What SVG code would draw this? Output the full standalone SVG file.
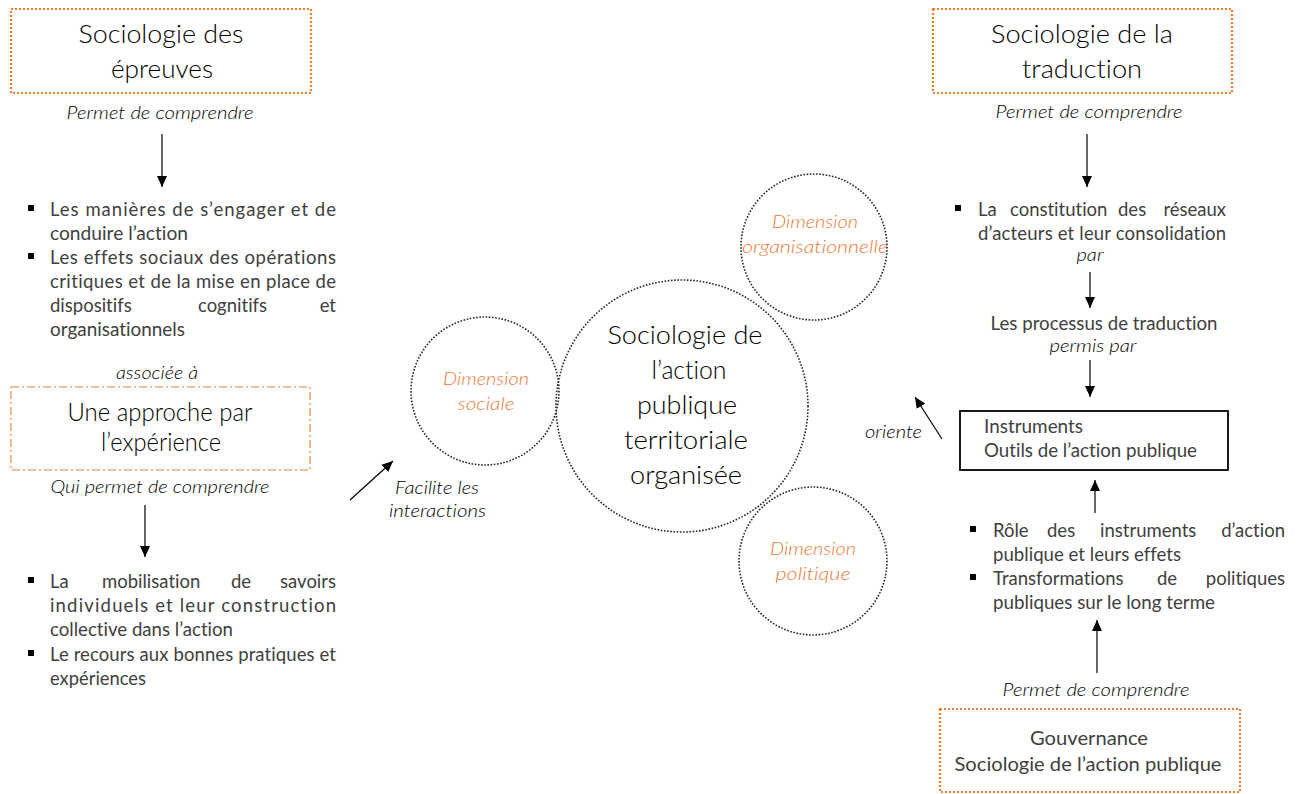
<svg xmlns="http://www.w3.org/2000/svg" width="1301" height="794" viewBox="0 0 1301 794">
<defs>
<style>
text{font-family:Lato,"Open Sans","Liberation Sans",sans-serif;font-weight:400;fill:#404040;font-variant-ligatures:none}
.t{font-size:26px;font-weight:300;fill:#000}
.b{font-size:18.5px}
.i{font-size:18px;font-style:italic;font-weight:300;fill:#000}
.d{font-size:18px;font-style:italic;font-weight:300;fill:#EC7A38}
.m{text-anchor:middle}
.ob{fill:none;stroke:#ED7D31;stroke-width:2.2;stroke-dasharray:2 2}
.od{fill:none;stroke:#ED7D31;stroke-width:1.1;stroke-dasharray:8 3 2 3}
.c{fill:none;stroke:#262626;stroke-width:1.6;stroke-dasharray:1.6 1.6}
.a{stroke:#000;stroke-width:1.2;fill:none;marker-end:url(#ah)}
.sq{fill:#000}
</style>
<marker id="ah" markerUnits="userSpaceOnUse" markerWidth="12" markerHeight="12" viewBox="0 0 12 12" refX="11" refY="6" orient="auto">
<path d="M0,1 L11,6 L0,11 Z" fill="#000"/>
</marker>
</defs>

<g id="epreuves">
<rect class="ob" x="11" y="9" width="300" height="84"/>
<text class="t m" x="161" y="43" textLength="165" lengthAdjust="spacingAndGlyphs">Sociologie des</text>
<text class="t m" x="162" y="78" textLength="102" lengthAdjust="spacingAndGlyphs">épreuves</text>
</g>
<text class="i m" x="160" y="119" textLength="187" lengthAdjust="spacingAndGlyphs">Permet de comprendre</text>

<g id="bullets-epreuves">
<rect class="sq" x="28" y="205" width="6" height="6"/>
<text class="b" x="50" y="216" textLength="286" lengthAdjust="spacing">Les manières de s’engager et de</text>
<text class="b" x="50" y="240" textLength="138" lengthAdjust="spacingAndGlyphs">conduire l’action</text>
<rect class="sq" x="28" y="253" width="6" height="6"/>
<text class="b" x="50" y="264" textLength="286" lengthAdjust="spacing">Les effets sociaux des opérations</text>
<text class="b" x="50" y="288" textLength="286" lengthAdjust="spacing">critiques et de la mise en place de</text>
<text class="b" y="312"><tspan x="50">dispositifs</tspan><tspan x="198">cognitifs</tspan><tspan x="336" text-anchor="end">et</tspan></text>
<text class="b" x="50" y="336" textLength="135" lengthAdjust="spacingAndGlyphs">organisationnels</text>
</g>

<text class="i m" x="157" y="379" textLength="82" lengthAdjust="spacingAndGlyphs">associée à</text>
<g id="experience">
<rect class="od" x="11" y="387" width="299" height="83"/>
<text class="t m" x="160" y="421" textLength="185" lengthAdjust="spacingAndGlyphs">Une approche par</text>
<text class="t m" x="161" y="451" textLength="120" lengthAdjust="spacingAndGlyphs">l’expérience</text>
</g>
<text class="i m" x="160" y="493" textLength="219" lengthAdjust="spacingAndGlyphs">Qui permet de comprendre</text>

<g id="bullets-experience">
<rect class="sq" x="28" y="577" width="6" height="6"/>
<text class="b" y="588"><tspan x="50">La</tspan><tspan x="102">mobilisation</tspan><tspan x="231">de</tspan><tspan x="336" text-anchor="end">savoirs</tspan></text>
<text class="b" x="50" y="612" textLength="286" lengthAdjust="spacing">individuels et leur construction</text>
<text class="b" x="50" y="636" textLength="183" lengthAdjust="spacingAndGlyphs">collective dans l’action</text>
<rect class="sq" x="28" y="650" width="6" height="6"/>
<text class="b" x="50" y="661" textLength="286" lengthAdjust="spacing">Le recours aux bonnes pratiques et</text>
<text class="b" x="50" y="685" textLength="96" lengthAdjust="spacingAndGlyphs">expériences</text>
</g>

<g id="dim-sociale">
<circle class="c" cx="485" cy="391" r="74"/>
<text class="d m" x="486" y="385" textLength="86" lengthAdjust="spacingAndGlyphs">Dimension</text>
<text class="d m" x="486" y="410" textLength="57" lengthAdjust="spacingAndGlyphs">sociale</text>
</g>
<g id="dim-organisationnelle">
<circle class="c" cx="814" cy="247" r="73"/>
<text class="d m" x="815" y="228" textLength="86" lengthAdjust="spacingAndGlyphs">Dimension</text>
<text class="d m" x="815" y="253" textLength="146" lengthAdjust="spacingAndGlyphs">organisationnelle</text>
</g>
<g id="dim-politique">
<circle class="c" cx="813" cy="561" r="74"/>
<text class="d m" x="813" y="555" textLength="86" lengthAdjust="spacingAndGlyphs">Dimension</text>
<text class="d m" x="813" y="580" textLength="75" lengthAdjust="spacingAndGlyphs">politique</text>
</g>
<g id="centre">
<circle class="c" cx="682" cy="406" r="126"/>
<text class="t m" x="685" y="344" textLength="155" lengthAdjust="spacingAndGlyphs">Sociologie de</text>
<text class="t m" x="689" y="379" textLength="75" lengthAdjust="spacingAndGlyphs">l’action</text>
<text class="t m" x="687" y="414" textLength="100" lengthAdjust="spacingAndGlyphs">publique</text>
<text class="t m" x="686" y="449" textLength="124" lengthAdjust="spacingAndGlyphs">territoriale</text>
<text class="t m" x="686" y="484" textLength="112" lengthAdjust="spacingAndGlyphs">organisée</text>
</g>

<text class="i" x="395" y="494" textLength="84" lengthAdjust="spacingAndGlyphs">Facilite les</text>
<text class="i" x="389" y="517" textLength="97" lengthAdjust="spacingAndGlyphs">interactions</text>
<text class="i" x="865" y="438" textLength="57" lengthAdjust="spacingAndGlyphs">oriente</text>

<g id="traduction">
<rect class="ob" x="933" y="9" width="299" height="84"/>
<text class="t m" x="1082" y="43" textLength="182" lengthAdjust="spacingAndGlyphs">Sociologie de la</text>
<text class="t m" x="1082" y="78" textLength="120" lengthAdjust="spacingAndGlyphs">traduction</text>
</g>
<text class="i m" x="1089" y="118" textLength="187" lengthAdjust="spacingAndGlyphs">Permet de comprendre</text>

<g id="reseaux">
<rect class="sq" x="955" y="205" width="6" height="6"/>
<text class="b" y="216"><tspan x="978">La</tspan><tspan x="1010">constitution</tspan><tspan x="1118">des</tspan><tspan x="1226" text-anchor="end">réseaux</tspan></text>
<text class="b" x="978" y="240" textLength="248" lengthAdjust="spacing">d’acteurs et leur consolidation</text>
</g>
<text class="i m" x="1090" y="261" textLength="27" lengthAdjust="spacingAndGlyphs">par</text>
<g id="processus">
<text class="b m" x="1104" y="330" textLength="227" lengthAdjust="spacingAndGlyphs">Les processus de traduction</text>
</g>
<text class="i m" x="1093" y="352" textLength="87" lengthAdjust="spacingAndGlyphs">permis par</text>

<g id="instruments">
<rect x="960" y="411" width="268" height="59" fill="none" stroke="#000" stroke-width="1.8"/>
<text class="b" x="984" y="433" textLength="99" lengthAdjust="spacingAndGlyphs">Instruments</text>
<text class="b" x="984" y="457" textLength="213" lengthAdjust="spacingAndGlyphs">Outils de l’action publique</text>
</g>

<g id="bullets-instruments">
<rect class="sq" x="970" y="526" width="6" height="6"/>
<text class="b" y="537"><tspan x="993">Rôle</tspan><tspan x="1047">des</tspan><tspan x="1100">instruments</tspan><tspan x="1285" text-anchor="end">d’action</tspan></text>
<text class="b" x="993" y="561" textLength="188" lengthAdjust="spacingAndGlyphs">publique et leurs effets</text>
<rect class="sq" x="970" y="574" width="6" height="6"/>
<text class="b" y="585"><tspan x="993">Transformations</tspan><tspan x="1157">de</tspan><tspan x="1285" text-anchor="end">politiques</tspan></text>
<text class="b" x="993" y="609" textLength="222" lengthAdjust="spacingAndGlyphs">publiques sur le long terme</text>
</g>

<text class="i m" x="1096" y="696" textLength="187" lengthAdjust="spacingAndGlyphs">Permet de comprendre</text>
<g id="gouvernance">
<rect class="ob" x="940" y="709" width="300" height="83"/>
<text class="b m" x="1089" y="745" style="font-size:20px" textLength="118" lengthAdjust="spacingAndGlyphs">Gouvernance</text>
<text class="b m" x="1088" y="771" style="font-size:20px" textLength="267" lengthAdjust="spacingAndGlyphs">Sociologie de l’action publique</text>
</g>

<g id="connectors">
<line class="a" x1="162" y1="134" x2="162" y2="187"/>
<line class="a" x1="145" y1="505" x2="145" y2="557"/>
<line class="a" x1="350" y1="500" x2="393" y2="461"/>
<line class="a" x1="942" y1="439" x2="915" y2="397"/>
<line class="a" x1="1087" y1="134" x2="1087" y2="187"/>
<line class="a" x1="1090" y1="272" x2="1090" y2="308"/>
<line class="a" x1="1090" y1="360" x2="1090" y2="397"/>
<line class="a" x1="1095" y1="513" x2="1095" y2="480"/>
<line class="a" x1="1097" y1="673" x2="1097" y2="620"/>
</g>
</svg>
